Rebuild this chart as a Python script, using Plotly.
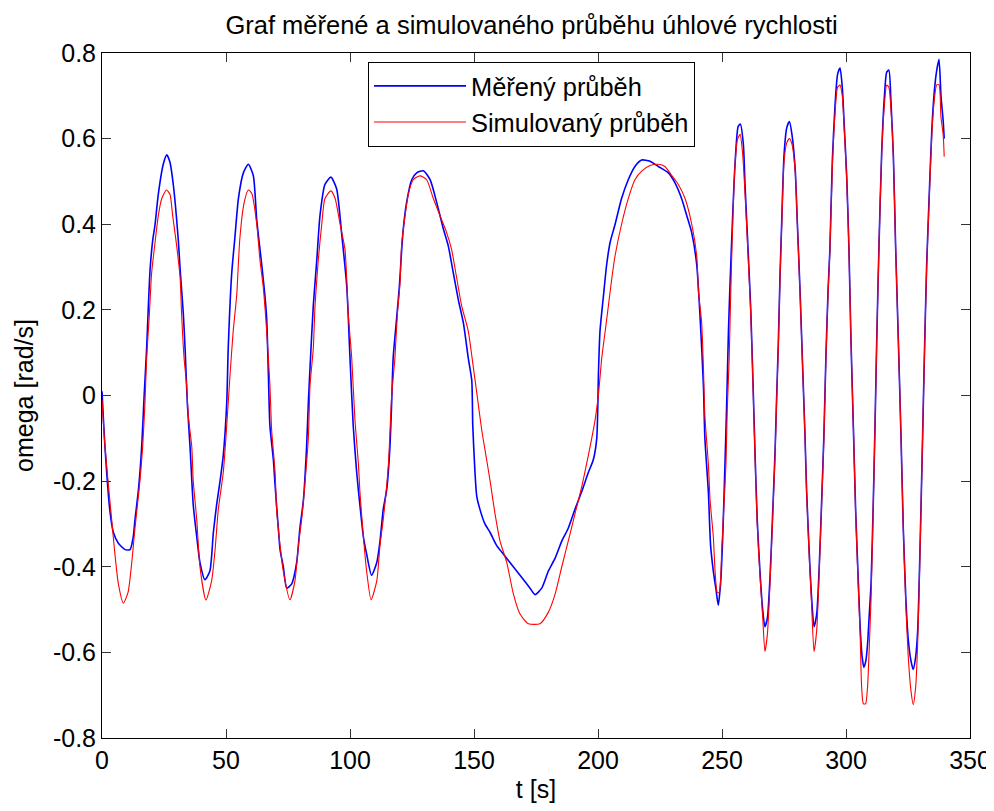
import plotly.graph_objects as go

# ---- data ----
t_sim = [0, 1.2, 2.6, 3.9, 5.2, 6.6, 8.6, 10.5, 12.0, 13.3, 15.3, 16.4, 17.3, 18.0, 19.1, 20.0,
         21.4, 22.7, 24.1, 26.0, 27.4, 28.5, 30.1, 31.5, 32.1, 33.1, 34.1, 34.8, 36.2, 36.8, 38.2,
         39.5, 41.9, 44.2, 45.6, 46.9, 48.9, 50.3, 51.6, 52.9, 54.3, 55.6, 57.3, 59.0,
         60.4, 62.4, 63.7, 65.0, 66.4, 67.7, 68.4, 69.8, 70.4, 71.8, 73.1, 75.8, 77.8, 79.2, 80.5,
         81.9, 83.2, 83.9, 85.2, 85.9, 87.2, 88.6, 89.9, 92.3, 94.0, 96.0, 98.0, 99.3, 100.7, 102.0,
         103.4, 104.0, 105.4, 106.7, 108.5, 110.8, 112.1, 113.4, 115.5, 116.8, 118.1, 119.1, 120.2,
         120.8, 122.2, 123.5, 125.5, 128.2, 130.9, 133.6, 136.3, 139.0, 141.0, 143.0, 145.0, 147.7,
         149.7, 151.4, 153.1, 155.1, 156.5, 158.5, 160.5, 163.2, 165.9, 168.5, 171.9, 176.6, 180.0,
         182.7, 185.4, 188.0, 190.7, 193.4, 196.1, 198.8, 200.2, 201.5, 202.9, 204.2, 205.6, 206.9,
         209.5, 212.2, 214.9, 217.6, 221.0, 224.3, 227.0, 229.7, 232.4, 235.1, 237.8, 239.8, 240.5,
         241.8, 242.5, 243.1, 244.5, 245.2, 246.5, 247.2, 248.1, 248.9, 249.9, 250.5, 251.6, 252.1,
         252.9, 253.5, 254.3, 255.2, 256.2, 257.3, 258.3, 259.3, 260.6, 261.6, 262.6, 263.3, 264.2,
         265.3, 266.4, 267.3, 268.3, 269.4, 270.4, 271.4, 272.0, 272.7, 273.4, 274.1, 275.0, 276.1,
         277.2, 278.2, 279.5, 280.4, 281.5, 282.5, 283.5, 284.1, 285.2, 286.1, 287.1, 288.2, 289.2,
         290.1, 291.1, 291.9, 292.8, 293.5, 294.5, 295.6, 296.6, 297.6, 298.5, 299.3, 300.3, 301.2,
         302.0, 303.0, 303.9, 305.0, 305.7, 306.3, 307.0, 307.9, 308.7, 309.3, 310.1, 311.0, 311.7,
         312.4, 313.3, 314.4, 315.5, 316.4, 317.3, 318.1, 319.1, 320.0, 321.1, 322.2, 323.1, 324.1,
         325.1, 326.2, 327.1, 328.1, 328.9, 329.8, 330.8, 331.6, 332.5, 333.5, 334.6, 335.6, 336.6,
         337.5, 338.3, 339.2, 339.6]
omega_sim = [-0.01, -0.12, -0.21, -0.29, -0.37, -0.44, -0.485, -0.46, -0.39, -0.31, -0.20, -0.12, -0.02, 0.087, 0.19, 0.285,
             0.358, 0.42, 0.46, 0.48, 0.47, 0.42, 0.35, 0.275, 0.19, 0.087, 0.025, -0.048, -0.12, -0.20, -0.29,
             -0.40, -0.478, -0.433, -0.36, -0.266, -0.18, -0.07, 0.046, 0.15, 0.233, 0.368, 0.45, 0.48,
             0.472, 0.40, 0.316, 0.254, 0.15, 0.025, -0.08, -0.18, -0.266, -0.35, -0.41, -0.477, -0.433, -0.35, -0.29,
             -0.20, -0.10, 0.025, 0.11, 0.21, 0.316, 0.40, 0.46, 0.478, 0.46, 0.40, 0.34, 0.19, 0.087, -0.058,
             -0.16, -0.225, -0.33, -0.41, -0.477, -0.433, -0.35, -0.29, -0.16, 0.0, 0.087, 0.19, 0.264,
             0.35, 0.42, 0.47, 0.504, 0.513, 0.504, 0.46, 0.42, 0.38, 0.34, 0.275, 0.21, 0.15,
             0.067, -0.006, -0.08, -0.15, -0.20, -0.277, -0.34, -0.39, -0.464, -0.51, -0.533, -0.533, -0.506,
             -0.464, -0.40, -0.34, -0.277, -0.214, -0.14, -0.058, 0.004, 0.087, 0.15, 0.21, 0.275, 0.327,
             0.40, 0.46, 0.504, 0.524, 0.537, 0.54, 0.535, 0.514, 0.493, 0.46, 0.40, 0.327, 0.243,
             0.17, 0.067, -0.048, -0.16, -0.245, -0.33, -0.41, -0.46, -0.46, -0.36, -0.29, -0.16, -0.037,
             0.087, 0.233, 0.40, 0.535, 0.597, 0.61, 0.566, 0.47, 0.316, 0.19, 0.004, -0.14, -0.30,
             -0.42, -0.516, -0.598, -0.558, -0.433, -0.29, -0.14, -0.017, 0.11, 0.275, 0.40, 0.545, 0.59,
             0.60, 0.587, 0.524, 0.40, 0.233, 0.067, -0.10, -0.225, -0.38, -0.485, -0.598, -0.547, -0.41,
             -0.266, -0.10, 0.087, 0.243, 0.337, 0.535, 0.66, 0.72, 0.725, 0.70, 0.62, 0.504, 0.337,
             0.13, -0.08, -0.277, -0.454, -0.558, -0.68, -0.72, -0.72, -0.68, -0.60, -0.475, -0.256, -0.07,
             0.13, 0.348, 0.566, 0.68, 0.725, 0.72, 0.67, 0.556, 0.348, 0.13, -0.10, -0.31, -0.485,
             -0.61, -0.69, -0.722, -0.68, -0.578, -0.38, -0.12, 0.087, 0.295, 0.45, 0.608, 0.69, 0.726,
             0.726, 0.65, 0.608, 0.558]

t_meas = [0, 1.2, 3.2, 4.6, 6.6, 9.3, 11.3, 12.6, 13.3, 14.7, 16.0, 17.0, 18.0, 18.7, 19.4, 20.4,
          21.4, 22.7, 24.7, 26.1, 27.4, 28.8, 30.8, 31.5, 32.8, 33.5, 34.4, 35.5, 36.8, 38.2, 39.5,
          41.5, 43.5, 44.9, 46.2, 47.6, 48.9, 50.3, 50.9, 52.3, 53.6, 55.0, 57.0, 59.0,
          61.0, 62.4, 64.4, 65.7, 66.4, 67.1, 67.7, 69.1, 69.8, 71.1, 71.8, 73.1, 74.5, 76.5, 78.5,
          79.8, 81.2, 82.5, 83.2, 83.9, 85.2, 86.6, 87.9, 89.9, 92.3, 94.6, 96.6, 98.7, 100.0, 101.3,
          102.7, 104.0, 105.4, 106.7, 108.7, 110.8, 112.1, 113.4, 114.8, 116.1, 116.8, 117.4, 118.8,
          119.9, 120.8, 121.5, 122.8, 124.9, 126.9, 129.6, 132.3, 135.0, 137.6, 139.6, 141.7, 143.7,
          145.7, 147.7, 149.1, 149.5, 150.4, 151.1, 152.4, 154.4, 156.5, 159.1, 161.8, 164.5, 167.2,
          169.9, 172.6, 174.6, 177.3, 180.0, 182.7, 185.4, 188.0, 190.7, 193.4, 196.1, 198.1, 199.5,
          200.2, 200.8, 202.2, 203.5, 204.9, 206.9, 209.5, 212.2, 214.9, 217.6, 221.0, 224.3, 228.4,
          231.0, 233.7, 235.8, 237.8, 239.8, 241.1, 242.5, 243.1, 244.5, 245.4, 246.5, 247.6, 248.5,
          249.5, 250.3, 251.2, 251.9, 252.6, 253.2, 254.3, 255.2, 256.5, 257.4, 258.6, 259.3, 260.6,
          261.6, 262.6, 263.3, 264.2, 265.3, 266.4, 267.3, 268.3, 269.4, 270.4, 271.4, 272.0, 272.7,
          273.4, 274.1, 275.0, 276.1, 277.2, 278.2, 279.5, 280.4, 281.5, 282.5, 283.5, 284.1, 285.2,
          286.1, 287.1, 288.2, 289.2, 290.1, 291.1, 291.9, 292.8, 293.5, 294.5, 295.6, 296.6, 297.6,
          298.5, 299.3, 300.3, 301.2, 302.0, 303.0, 303.9, 305.0, 305.7, 306.5, 307.2, 308.0, 308.7,
          309.3, 310.1, 311.0, 311.7, 312.4, 313.3, 314.4, 315.5, 316.4, 317.3, 318.1, 319.1, 320.0,
          321.1, 322.2, 323.1, 324.1, 325.1, 326.2, 327.1, 328.1, 328.9, 329.8, 330.8, 331.6, 332.5,
          333.5, 334.6, 335.6, 336.6, 337.5, 338.3, 339.2, 339.6]
omega_meas = [0.01, -0.12, -0.27, -0.32, -0.345, -0.36, -0.36, -0.33, -0.29, -0.22, -0.12, 0.0, 0.11, 0.21, 0.295, 0.36,
              0.40, 0.47, 0.54, 0.562, 0.545, 0.49, 0.36, 0.295, 0.19, 0.11, -0.017, -0.12, -0.256, -0.33, -0.39,
              -0.43, -0.41, -0.32, -0.256, -0.20, -0.14, -0.017, 0.11, 0.285, 0.37, 0.46, 0.52, 0.54,
              0.514, 0.41, 0.306, 0.233, 0.18, 0.046, -0.07, -0.15, -0.21, -0.31, -0.36, -0.40, -0.45, -0.44, -0.39,
              -0.31, -0.245, -0.12, -0.017, 0.067, 0.21, 0.316, 0.42, 0.493, 0.51, 0.483, 0.38, 0.254, 0.087, -0.07,
              -0.18, -0.256, -0.33, -0.37, -0.42, -0.39, -0.34, -0.266, -0.22, -0.12, -0.017, 0.087, 0.18,
              0.254, 0.337, 0.39, 0.45, 0.504, 0.52, 0.525, 0.504, 0.45, 0.39, 0.35, 0.285, 0.223,
              0.17, 0.087, 0.035, -0.07, -0.18, -0.235, -0.266, -0.30, -0.32, -0.35, -0.37, -0.39, -0.41,
              -0.43, -0.45, -0.465, -0.45, -0.41, -0.38, -0.34, -0.31, -0.266, -0.225, -0.18, -0.15, -0.10,
              0.056, 0.15, 0.233, 0.306, 0.358, 0.40, 0.46, 0.504, 0.535, 0.55, 0.547, 0.535, 0.52,
              0.497, 0.46, 0.42, 0.38, 0.306, 0.19, 0.025, -0.10, -0.225, -0.35, -0.41, -0.454, -0.49,
              -0.433, -0.33, -0.16, -0.017, 0.15, 0.254, 0.42, 0.535, 0.628, 0.634, 0.587, 0.49, 0.33,
              0.20, 0.01, -0.13, -0.29, -0.41, -0.50, -0.54, -0.52, -0.42, -0.28, -0.13, -0.01, 0.12,
              0.28, 0.41, 0.56, 0.625, 0.64, 0.61, 0.53, 0.40, 0.24, 0.07, -0.10, -0.22, -0.37,
              -0.47, -0.54, -0.51, -0.40, -0.26, -0.09, 0.09, 0.25, 0.34, 0.55, 0.68, 0.75, 0.765,
              0.72, 0.63, 0.51, 0.34, 0.13, -0.08, -0.27, -0.44, -0.54, -0.61, -0.635, -0.62, -0.58,
              -0.52, -0.44, -0.25, -0.07, 0.13, 0.35, 0.57, 0.70, 0.755, 0.76, 0.69, 0.56, 0.35,
              0.13, -0.10, -0.31, -0.47, -0.57, -0.62, -0.64, -0.61, -0.55, -0.37, -0.12, 0.09, 0.30,
              0.46, 0.62, 0.71, 0.76, 0.785, 0.70, 0.64, 0.60]

x_ticks = [0, 50, 100, 150, 200, 250, 300, 350]
y_ticks = [-0.8, -0.6, -0.4, -0.2, 0, 0.2, 0.4, 0.6, 0.8]
y_tick_labels = ["-0.8", "-0.6", "-0.4", "-0.2", "0", "0.2", "0.4", "0.6", "0.8"]

series_names = ["Měřený průběh", "Simulovaný průběh"]
title_text = "Graf měřené a simulovaného průběhu úhlové rychlosti"

FONT = "Liberation Sans, Arial, sans-serif"

fig = go.Figure()
fig.add_trace(go.Scatter(x=t_meas, y=omega_meas, mode="lines", name=series_names[0],
                         line=dict(color="#0000FF", width=1.6, shape="spline", smoothing=0.6)))
fig.add_trace(go.Scatter(x=t_sim, y=omega_sim, mode="lines", name=series_names[1],
                         line=dict(color="#FF0000", width=1.1, shape="spline", smoothing=0.6)))

axis_common = dict(showline=True, linecolor="black", linewidth=1, mirror="ticks",
                   ticks="inside", ticklen=9, tickwidth=1, tickcolor="#333333",
                   showgrid=False, zeroline=False, automargin=False,
                   tickfont=dict(family=FONT, size=25, color="black"))

fig.update_xaxes(range=[0, 350], tickvals=x_ticks, ticktext=[str(v) for v in x_ticks],
                 title=dict(text="t [s]", font=dict(family=FONT, size=25, color="black"), standoff=20),
                 **axis_common)
fig.update_yaxes(range=[-0.8, 0.8], tickvals=y_ticks, ticktext=y_tick_labels,
                 title=dict(text="omega [rad/s]", font=dict(family=FONT, size=25, color="black"), standoff=12),
                 **axis_common)

# the page body keeps its default 8px margin, so the figure is sized to fit the 994x811 window
fig.update_layout(
    width=986, height=795,
    margin=dict(l=94, r=24, t=45, b=65, autoexpand=False),
    paper_bgcolor="white", plot_bgcolor="white",
    title=dict(text=title_text, x=0.531, xanchor="center", y=0.979, yanchor="middle",
               font=dict(family=FONT, size=25.5, color="black")),
    legend=dict(x=0.3065, y=0.987, xanchor="left", yanchor="top",
                bgcolor="white", bordercolor="black", borderwidth=1,
                font=dict(family=FONT, size=25.4, color="black"), itemwidth=92,
                tracegroupgap=0),
    showlegend=True,
)

fig.write_html("out.html", config={"displayModeBar": False})
